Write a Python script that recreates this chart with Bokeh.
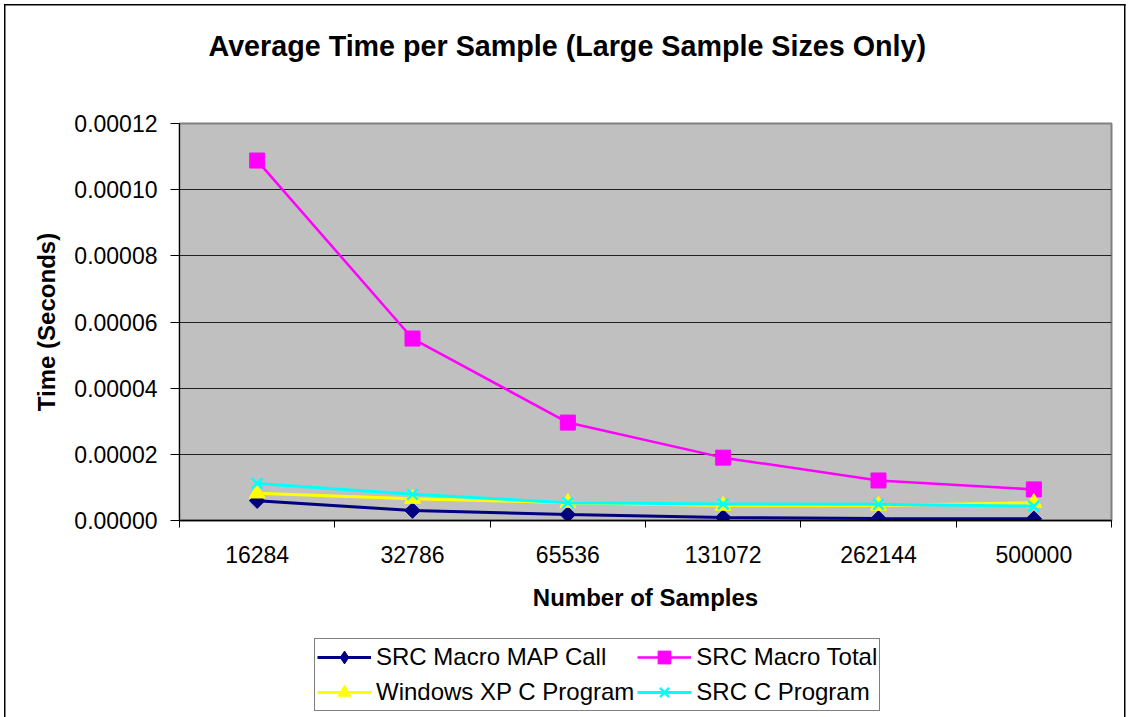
import math
from bokeh.plotting import figure
from bokeh.layouts import column
from bokeh.models import (FixedTicker, NumeralTickFormatter, Legend, LegendItem,
                          Range1d, ColumnDataSource, Title)
from bokeh.embed import file_html
from bokeh.resources import INLINE

# ---------------- data ----------------
samples = ["16284", "32786", "65536", "131072", "262144", "500000"]
src_macro_map_call = [6.0e-6, 3.0e-6, 1.8e-6, 0.9e-6, 0.6e-6, 0.5e-6]
src_macro_total = [1.088e-4, 5.5e-5, 2.96e-5, 1.9e-5, 1.21e-5, 9.4e-6]
windows_xp_c_program = [8.2e-6, 6.6e-6, 5.4e-6, 4.5e-6, 4.5e-6, 5.4e-6]
src_c_program = [1.12e-5, 7.9e-6, 5.4e-6, 5.0e-6, 4.9e-6, 4.3e-6]
y_ticks = [0.0, 0.00002, 0.00004, 0.00006, 0.00008, 0.00010, 0.00012]
series_names = ["SRC Macro MAP Call", "SRC Macro Total",
                "Windows XP C Program", "SRC C Program"]

FONT = "Liberation Sans"
W = 1130
LEFT, RIGHT = 179, 19

# category slot centres (index based)
xpos = [i + 0.5 for i in range(len(samples))]
bounds = [i for i in range(len(samples) + 1)]

src = ColumnDataSource(dict(x=xpos,
                            m=src_macro_map_call,
                            t=src_macro_total,
                            w=windows_xp_c_program,
                            c=src_c_program))

p = figure(width=W, height=630, output_backend="svg", toolbar_location=None,
           x_range=Range1d(0, len(samples)), y_range=Range1d(y_ticks[0], y_ticks[-1]),
           min_border_left=LEFT, min_border_right=RIGHT, min_border_top=123,
           min_border_bottom=110)

p.background_fill_color = "#C0C0C0"
p.border_fill_color = None
p.outline_line_color = "#808080"
p.outline_line_width = 2

# real title (outermost) + a blank spacer title between it and the frame
p.title.text = "Average Time per Sample (Large Sample Sizes Only)"
p.title.text_font = FONT
p.title.text_font_size = "28.7px"
p.title.text_font_style = "bold"
p.title.text_color = "black"
p.title.align = "left"
p.title.vertical_align = "top"
p.title.offset = 29
p.title.standoff = 56
spacer = Title(text=" ", text_font_size="1px", standoff=29)
p.add_layout(spacer, "above")

# x axis
xa = p.xaxis[0]
xa.ticker = FixedTicker(ticks=xpos, minor_ticks=bounds)
xa.major_label_overrides = {xv: s for xv, s in zip(xpos, samples)}
xa.major_tick_out = 0
xa.major_tick_in = 0
xa.minor_tick_out = 7
xa.minor_tick_in = 0
xa.minor_tick_line_color = "black"
xa.axis_line_color = "black"
xa.axis_line_width = 1.5
xa.major_label_text_font = FONT
xa.major_label_text_font_size = "23px"
xa.major_label_text_color = "black"
xa.major_label_standoff = 18
xa.axis_label = "Number of Samples"
xa.axis_label_text_font = FONT
xa.axis_label_text_font_size = "24px"
xa.axis_label_text_font_style = "bold"
xa.axis_label_standoff = 18
xa.axis_label_text_color = "black"

# y axis
ya = p.yaxis[0]
ya.ticker = FixedTicker(ticks=y_ticks)
ya.formatter = NumeralTickFormatter(format="0.00000")
ya.major_tick_out = 9
ya.major_tick_in = 0
ya.minor_tick_out = 0
ya.minor_tick_in = 0
ya.axis_line_color = "black"
ya.major_tick_line_color = "black"
ya.major_label_text_font = FONT
ya.major_label_text_font_size = "23px"
ya.major_label_text_color = "black"
ya.major_label_standoff = 13
ya.axis_label = "Time (Seconds)"
ya.axis_label_text_font = FONT
ya.axis_label_text_font_size = "24px"
ya.axis_label_text_font_style = "bold"
ya.axis_label_standoff = 11
ya.axis_label_text_color = "black"

p.xgrid.visible = False
p.ygrid.grid_line_color = "#202020"
p.ygrid.grid_line_width = 1

styles = [
    dict(marker="square", angle=math.pi / 4, lmarker="diamond", size=11,
         color="#000080", lw=3, mlw=1),
    dict(marker="square", angle=0.0, lmarker="square", size=15,
         color="#FF00FF", lw=2.5, mlw=1),
    dict(marker="triangle", angle=0.0, lmarker="triangle", size=16,
         color="#FFFF00", lw=3, mlw=1),
    dict(marker="x", angle=0.0, lmarker="x", size=15,
         color="#00FFFF", lw=3, mlw=2.5),
]
cols = ["m", "t", "w", "c"]

for col, st in zip(cols, styles):
    p.line("x", col, source=src, line_color=st["color"], line_width=st["lw"])
    p.scatter("x", col, source=src, marker=st["marker"], angle=st["angle"],
              size=st["size"], fill_color=st["color"], line_color=st["color"],
              line_width=st["mlw"])

# ---------------- legend strip ----------------
# same series drawn again, but outside this strip's visible range: they only
# serve as legend glyphs.
p2 = figure(width=W, height=87, output_backend="svg", toolbar_location=None,
            x_range=Range1d(100, 101), y_range=Range1d(100, 101),
            x_axis_type=None, y_axis_type=None,
            min_border_left=LEFT, min_border_right=RIGHT, min_border_top=0,
            min_border_bottom=0)
p2.grid.visible = False
p2.outline_line_color = None
p2.background_fill_color = None
p2.border_fill_color = None

legend_items = {}
for name, col, st in zip(series_names, cols, styles):
    r1 = p2.line("x", col, source=src, line_color=st["color"], line_width=st["lw"])
    r2 = p2.scatter("x", col, source=src, marker=st["lmarker"],
                    size=st["size"], fill_color=st["color"], line_color=st["color"],
                    line_width=st["mlw"])
    legend_items[name] = LegendItem(label=name, renderers=[r1, r2], index=0)

# column-first fill: order so rows read as in the reference
order = [series_names[0], series_names[2], series_names[1], series_names[3]]
legend = Legend(items=[legend_items[n] for n in order], location=(135, 6), ncols=2)
legend.label_text_font = FONT
legend.label_text_font_size = "24px"
legend.label_text_color = "black"
legend.glyph_width = 54
legend.glyph_height = 32
legend.label_height = 32
legend.label_standoff = 5
legend.spacing = 3
legend.padding = 2
legend.margin = 0
legend.border_line_color = "black"
legend.border_line_width = 1
legend.background_fill_color = "white"
legend.background_fill_alpha = 1
p2.add_layout(legend, "center")

layout = column(p, p2, spacing=0)
g = "linear-gradient(#000, #000)"
layout.styles = {
    "background-color": "white",
    "background-image": f"{g}, {g}, {g}",
    "background-repeat": "no-repeat",
    "background-position": "4px 4px, 4px 4px, 1124px 4px",
    "background-size": "1.5px 100%, 1121.5px 1.5px, 1.5px 100%",
}

open("out.html", "w").write(file_html(layout, INLINE))
